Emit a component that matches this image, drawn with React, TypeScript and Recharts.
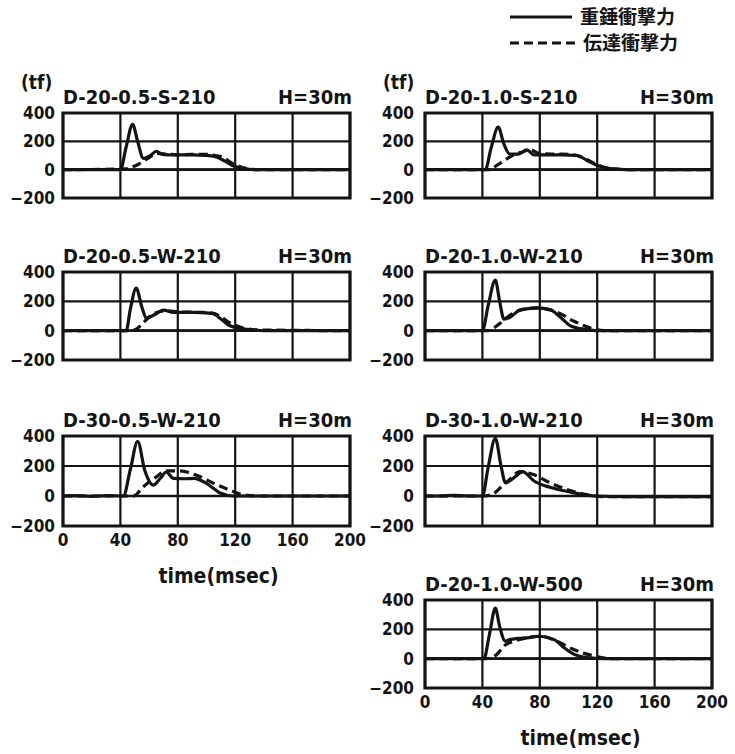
import React from 'react';
import { LineChart, Line, XAxis, YAxis, CartesianGrid, ReferenceArea, ReferenceLine } from 'recharts';

// panel titles
const PANEL_NAMES = [
  'D-20-0.5-S-210',
  'D-20-1.0-S-210',
  'D-20-0.5-W-210',
  'D-20-1.0-W-210',
  'D-30-0.5-W-210',
  'D-30-1.0-W-210',
  'D-20-1.0-W-500',
];
const HEIGHT_LABEL = 'H=30m';
const SERIES_NAMES = ['重錘衝撃力', '伝達衝撃力'];
const X_TICKS = [0, 40, 80, 120, 160, 200];
const Y_TICKS = [-200, 0, 200, 400];

// D-20-0.5-S-210
const P1_SOLID_T = [0, 40, 44, 48.5, 52, 56, 61, 65, 69, 73, 80, 90, 100, 105, 112, 118, 125, 135, 200];
const P1_SOLID_V = [0, 0, 160, 320, 200, 80, 100, 130, 110, 105, 105, 105, 100, 95, 65, 30, 10, 0, 0];
const P1_DASH_T = [0, 44, 48, 52, 56, 60, 65, 72, 80, 90, 100, 106, 111, 118, 125, 135, 200];
const P1_DASH_V = [0, 5, 18, 35, 60, 85, 115, 110, 105, 108, 108, 100, 90, 45, 15, 0, 0];

// D-20-1.0-S-210
const P2_SOLID_T = [0, 42, 46, 51, 55, 59, 65, 71, 76, 85, 95, 106, 113, 120, 129, 140, 200];
const P2_SOLID_V = [0, 0, 150, 300, 180, 110, 110, 140, 105, 105, 105, 100, 65, 30, 8, 0, 0];
const P2_DASH_T = [0, 45, 50, 55, 62, 68, 73, 80, 90, 100, 106, 113, 118, 124, 132, 140, 200];
const P2_DASH_V = [0, 0, 30, 64, 105, 125, 140, 115, 110, 108, 100, 70, 45, 18, 5, 0, 0];

// D-20-0.5-W-210
const P3_SOLID_T = [0, 44, 47, 51, 55, 58, 64, 70, 77, 90, 104, 110, 116, 122, 130, 140, 200];
const P3_SOLID_V = [0, 0, 150, 290, 160, 85, 110, 140, 125, 125, 118, 80, 35, 18, 8, 0, 0];
const P3_DASH_T = [0, 48, 51, 56, 63, 72, 81, 95, 104, 110, 116, 125, 135, 200];
const P3_DASH_V = [0, 0, 10, 54, 115, 135, 128, 125, 120, 95, 55, 20, 5, 0];

// D-20-1.0-W-210
const P4_SOLID_T = [0, 40, 44, 49, 52, 55, 59, 66, 72, 78, 87, 94, 101, 106, 111, 120, 200];
const P4_SOLID_V = [0, 0, 170, 344, 200, 78, 90, 140, 150, 155, 144, 95, 35, 18, 10, 0, 0];
const P4_DASH_T = [0, 44, 50, 57, 64, 72, 78, 90, 96, 101, 106, 111, 118, 125, 200];
const P4_DASH_V = [0, 0, 33, 89, 133, 150, 155, 133, 108, 78, 55, 33, 11, 0, 0];

// D-30-0.5-W-210
const P5_SOLID_T = [0, 10, 20, 30, 42, 47, 52, 57, 63, 68, 72, 77, 85, 91, 100, 105, 109, 119, 130, 200];
const P5_SOLID_V = [0, 3, -3, 3, 0, 180, 365, 170, 73, 120, 160, 117, 115, 117, 84, 50, 22, 0, 0, 0];
const P5_DASH_T = [0, 40, 49, 56, 65, 72, 81, 93, 105, 119, 126, 135, 200];
const P5_DASH_V = [0, 0, 0, 62, 128, 167, 167, 139, 84, 29, 7, 0, 0];

// D-30-1.0-W-210
const P6_SOLID_T = [0, 10, 20, 30, 40, 44, 49, 53, 56, 59, 63, 68, 76, 87, 101, 110, 118, 140, 200];
const P6_SOLID_V = [0, 0, 5, 0, 0, 190, 385, 200, 89, 100, 130, 162, 100, 58, 27, 10, 0, -5, -5];
const P6_DASH_T = [0, 41, 48, 54, 59, 66, 76, 87, 101, 115, 125, 200];
const P6_DASH_V = [0, 0, 17, 69, 110, 162, 141, 89, 37, 6, -5, -5];

// D-20-1.0-W-500
const P7_SOLID_T = [0, 41, 45, 49, 52, 56, 59, 65, 71, 80, 90, 97, 104, 113, 125, 200];
const P7_SOLID_V = [0, 0, 170, 344, 220, 119, 130, 138, 142, 153, 130, 74, 29, 7, 0, 0];
const P7_DASH_T = [0, 43, 50, 55, 62, 71, 80, 92, 101, 111, 120, 130, 200];
const P7_DASH_V = [0, 0, 29, 86, 119, 142, 153, 119, 74, 36, 14, 0, 0];

const FONT = "'DejaVu Sans Condensed', 'Liberation Sans Narrow', 'DejaVu Sans', sans-serif";
const CJK = "'Noto Sans CJK JP', 'Noto Sans CJK SC', sans-serif";
const INK = '#141414';

const COL_LEFT = [63, 425];
const ROW_TOP = [113, 272, 436, 600];
const ROW_H = [85, 88, 90, 88];
const PW = 287;
const YW = 60;
const MT = 14;
const MR = 22;
const MB = 14;
const XH = 30;

const zip = (t: number[], v: number[]) => t.map((x, i) => ({ t: x, v: v[i] }));

const panels = [
  { col: 0, row: 0, solid: zip(P1_SOLID_T, P1_SOLID_V), dash: zip(P1_DASH_T, P1_DASH_V), xAxis: false, tf: true },
  { col: 1, row: 0, solid: zip(P2_SOLID_T, P2_SOLID_V), dash: zip(P2_DASH_T, P2_DASH_V), xAxis: false, tf: true },
  { col: 0, row: 1, solid: zip(P3_SOLID_T, P3_SOLID_V), dash: zip(P3_DASH_T, P3_DASH_V), xAxis: false, tf: false },
  { col: 1, row: 1, solid: zip(P4_SOLID_T, P4_SOLID_V), dash: zip(P4_DASH_T, P4_DASH_V), xAxis: false, tf: false },
  { col: 0, row: 2, solid: zip(P5_SOLID_T, P5_SOLID_V), dash: zip(P5_DASH_T, P5_DASH_V), xAxis: true, tf: false },
  { col: 1, row: 2, solid: zip(P6_SOLID_T, P6_SOLID_V), dash: zip(P6_DASH_T, P6_DASH_V), xAxis: false, tf: false },
  { col: 1, row: 3, solid: zip(P7_SOLID_T, P7_SOLID_V), dash: zip(P7_DASH_T, P7_DASH_V), xAxis: true, tf: false },
];

const fmtY = (v: number) => (v < 0 ? '\u2212' + Math.abs(v) : String(v));
const tickStyle = { fontSize: 17, fontWeight: 700, fill: INK, fontFamily: FONT };

const Panel = ({ p }: { p: (typeof panels)[number] }) => {
  const h = ROW_H[p.row];
  const left = COL_LEFT[p.col];
  const top = ROW_TOP[p.row];
  return (
    <div style={{ position: 'absolute', left: left - YW, top: top - MT }}>
      <LineChart
        width={YW + PW + MR}
        height={MT + h + (p.xAxis ? XH : MB)}
        margin={{ top: MT, right: MR, left: 0, bottom: p.xAxis ? 0 : MB }}
      >
        <CartesianGrid stroke={INK} strokeWidth={2.2} />
        <XAxis
          dataKey="t"
          type="number"
          domain={[0, 200]}
          ticks={X_TICKS}
          hide={!p.xAxis}
          height={XH}
          axisLine={false}
          tickLine={false}
          tickSize={0}
          tickMargin={8}
          tick={tickStyle}
          interval={0}
        />
        <YAxis
          type="number"
          domain={[-200, 400]}
          ticks={Y_TICKS}
          width={YW}
          axisLine={false}
          tickLine={false}
          tickSize={0}
          tickMargin={p.col === 0 ? 8 : 11}
          tick={tickStyle}
          tickFormatter={fmtY}
          interval={0}
        />
        <ReferenceLine y={0} stroke={INK} strokeWidth={2.6} />
        <Line
          data={p.dash}
          dataKey="v"
          type="monotone"
          stroke={INK}
          strokeWidth={3.2}
          strokeDasharray="9 5"
          dot={false}
          isAnimationActive={false}
          name={SERIES_NAMES[1]}
        />
        <Line
          data={p.solid}
          dataKey="v"
          type="monotone"
          stroke={INK}
          strokeWidth={3.2}
          dot={false}
          isAnimationActive={false}
          name={SERIES_NAMES[0]}
        />
        <ReferenceArea x1={0} x2={200} y1={-200} y2={400} fill="none" stroke={INK} strokeWidth={3.2} />
      </LineChart>
    </div>
  );
};

export default function App() {
  return (
    <div style={{ position: 'absolute', left: 0, top: 0, width: 735, height: 754, background: '#fff', overflow: 'hidden' }}>
      {panels.map((p, i) => (
        <Panel key={i} p={p} />
      ))}
      <svg width={735} height={754} style={{ position: 'absolute', left: 0, top: 0, pointerEvents: 'none' }}>
        {panels.map((p, i) => {
          const left = COL_LEFT[p.col];
          const top = ROW_TOP[p.row];
          const h = ROW_H[p.row];
          return (
            <g key={i} fill={INK} fontFamily={FONT} fontWeight={700}>
              <text x={left} y={top - 9} fontSize={20}>
                {PANEL_NAMES[i]}
              </text>
              <text x={left + PW + 2} y={top - 9} fontSize={20} textAnchor="end">
                {HEIGHT_LABEL}
              </text>
              {p.tf && (
                <text x={left - 42} y={top - 24} fontSize={19}>
                  (tf)
                </text>
              )}
              {p.xAxis && (
                <text x={left + PW / 2 + 12} y={top + h + 57} fontSize={21} textAnchor="middle">
                  time(msec)
                </text>
              )}
            </g>
          );
        })}
        <line x1={510} x2={572} y1={17} y2={17} stroke={INK} strokeWidth={3} />
        <line x1={510} x2={575} y1={43} y2={43} stroke={INK} strokeWidth={3} strokeDasharray="9 5" />
        <g fill={INK} fontFamily={CJK} fontWeight={700} fontSize={19}>
          <text x={580} y={24}>{SERIES_NAMES[0]}</text>
          <text x={583} y={50}>{SERIES_NAMES[1]}</text>
        </g>
      </svg>
    </div>
  );
}
